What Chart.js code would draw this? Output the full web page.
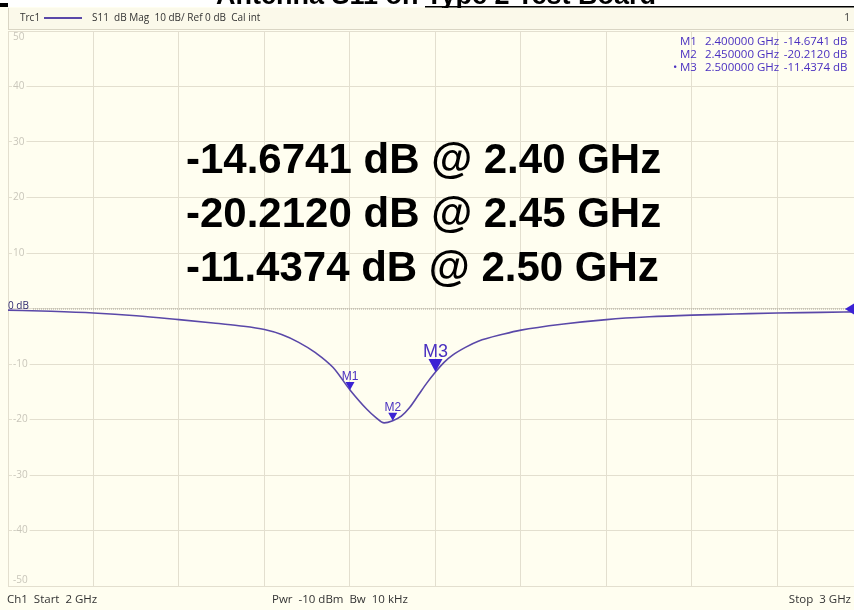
<!DOCTYPE html>
<html>
<head>
<meta charset="utf-8">
<title>Antenna S11 on Type 2 Test Board</title>
<script src="https://cdn.jsdelivr.net/npm/chart.js@4.4.1/dist/chart.umd.min.js"></script>
<style>
  html, body { margin: 0; padding: 0; background: #fff; overflow: hidden; }
  canvas { display: block; }
</style>
</head>
<body>
<canvas id="s11Chart" width="854" height="610"></canvas>
<script>
// ---- data ----
const titleText = 'Antenna S11 on Type 2 Test Board';
const freqGHz = [2.00, 2.05, 2.10, 2.15, 2.20, 2.24, 2.27, 2.30, 2.32, 2.34, 2.36, 2.38, 2.40, 2.42, 2.43, 2.44, 2.45,
                 2.46, 2.47, 2.48, 2.49, 2.50, 2.51, 2.52, 2.535, 2.55, 2.58, 2.60, 2.65, 2.70, 2.75, 2.80, 2.85, 2.90, 2.95, 2.99];
const s11dB   = [-0.3, -0.5, -0.8, -1.3, -2.0, -2.6, -3.1, -3.8, -4.7, -6.1, -8.0, -10.6, -14.6741, -18.2, -19.6, -20.6, -20.212,
                 -19.4, -17.8, -15.6, -13.4, -11.4374, -9.7, -8.4, -7.0, -5.9, -4.6, -3.9, -2.8, -2.0, -1.5, -1.2, -1.0, -0.8, -0.7, -0.6];
const xTicks = [2.0, 2.1, 2.2, 2.3, 2.4, 2.5, 2.6, 2.7, 2.8, 2.9];
const yTicks = [50, 40, 30, 20, 10, 0, -10, -20, -30, -40, -50];
const markerNames  = ['M1', 'M2', 'M3'];
const markerFreqs  = [2.40, 2.45, 2.50];
const markerValues = [-14.6741, -20.2120, -11.4374];
const headerText = 'S11  dB Mag  10 dB/ Ref 0 dB  Cal int';
const footerLeft = 'Ch1  Start  2 GHz';
const footerMid = 'Pwr  -10 dBm  Bw  10 kHz';
const footerRight = 'Stop  3 GHz';

const cream = '#fffef0';
const gridColor = '#e3dfcf';
const traceColor = '#5a48a8';
const markerColor = '#3b22d4';
const markerText = '#4a30c0';
const uiFont = "'Open Sans', sans-serif";
const boldFont = "'Liberation Sans', Arial, sans-serif";

const vnaDecor = {
  id: 'vnaDecor',
  beforeDraw(chart) {
    const c = chart.ctx;
    c.save();
    c.fillStyle = '#fff';
    c.fillRect(0, 0, chart.width, chart.height);
    c.fillStyle = cream;
    c.fillRect(0, 7, chart.width, chart.height - 7);

    // title (cut off at the top of the shot)
    c.fillStyle = '#000';
    c.font = 'bold 27px ' + boldFont;
    c.textAlign = 'center';
    c.textBaseline = 'alphabetic';
    c.fillText(titleText, 436, 3.5);
    c.fillRect(425, 6, chart.width - 425, 1.5);
    c.fillRect(0, 3, 8, 4);

    // header strip
    c.fillStyle = '#fbf9ea';
    c.fillRect(8, 8, chart.width - 8, 21);
    c.strokeStyle = '#d9d5c4';
    c.lineWidth = 1;
    c.beginPath();
    c.moveTo(8, 29.5); c.lineTo(chart.width, 29.5);
    c.moveTo(8.5, 8); c.lineTo(8.5, 30);
    c.stroke();
    c.font = '10px ' + uiFont;
    c.textAlign = 'left';
    c.textBaseline = 'middle';
    c.fillStyle = '#333';
    c.fillText('Trc1', 20, 18);
    c.fillText(headerText, 92, 18);
    c.textAlign = 'right';
    c.fillText('1', 850, 18);
    c.strokeStyle = traceColor;
    c.lineWidth = 2;
    c.beginPath();
    c.moveTo(44, 18); c.lineTo(82, 18);
    c.stroke();

    // footer
    c.font = '11.5px ' + uiFont;
    c.fillStyle = '#333';
    c.textAlign = 'left';
    c.fillText(footerLeft, 7, 600);
    c.fillText(footerMid, 272, 600);
    c.textAlign = 'right';
    c.fillText(footerRight, 851, 600);
    c.restore();
  },
  beforeDatasetsDraw(chart) {
    const c = chart.ctx;
    const y = chart.scales.y;
    const area = chart.chartArea;
    c.save();
    c.font = '10px ' + uiFont;
    c.textBaseline = 'middle';
    c.textAlign = 'left';
    yTicks.forEach(v => {
      let py = y.getPixelForValue(v);
      if (v === 50) py += 6;
      if (v === -50) py -= 6;
      if (v === 0) {
        c.fillStyle = '#2f2a70';
        c.fillText('0 dB', 8, py - 2);
        return;
      }
      const label = String(v);
      const w = c.measureText(label).width;
      c.fillStyle = cream;
      c.fillRect(12, py - 5, w + 3, 10);
      c.fillStyle = '#c9c6ba';
      c.fillText(label, 13, py);
    });
    // reference level dotted line
    const p0 = y.getPixelForValue(0);
    c.strokeStyle = '#a8a498';
    c.lineWidth = 1;
    c.setLineDash([1, 1]);
    c.beginPath();
    c.moveTo(33, p0 + 0.5); c.lineTo(area.right - 6, p0 + 0.5);
    c.stroke();
    c.restore();
  },
  afterDatasetsDraw(chart) {
    const c = chart.ctx;
    const x = chart.scales.x, y = chart.scales.y;
    c.save();
    c.textAlign = 'center';
    c.textBaseline = 'alphabetic';
    markerNames.forEach((name, i) => {
      const px = x.getPixelForValue(markerFreqs[i]);
      const py = y.getPixelForValue(markerValues[i]);
      const big = name === 'M3';
      const hw = big ? 7 : 4.5, h = big ? 13 : 8;
      c.fillStyle = markerColor;
      c.beginPath();
      c.moveTo(px, py);
      c.lineTo(px - hw, py - h);
      c.lineTo(px + hw, py - h);
      c.closePath();
      c.fill();
      c.fillStyle = markerText;
      c.font = (big ? '18px ' : '12px ') + boldFont;
      c.fillText(name, px, py - h - 2);
    });
    // reference arrow on the right edge
    const pr = y.getPixelForValue(0);
    c.fillStyle = markerColor;
    c.beginPath();
    c.moveTo(845, pr + 0.5);
    c.lineTo(854, pr - 5);
    c.lineTo(854, pr + 6);
    c.closePath();
    c.fill();
    c.restore();
  },
  afterDraw(chart) {
    const c = chart.ctx;
    c.save();
    // marker table
    c.font = '11.5px ' + uiFont;
    c.textBaseline = 'middle';
    c.fillStyle = markerText;
    const rows = [42, 55, 68];
    markerNames.forEach((name, i) => {
      const ry = rows[i];
      c.textAlign = 'left';
      if (i === 2) c.fillText('•', 673, ry);
      c.fillText(name, 680, ry);
      c.textAlign = 'right';
      c.fillText(markerFreqs[i].toFixed(6), 754, ry);
      c.textAlign = 'left';
      c.fillText('GHz', 757, ry);
      c.textAlign = 'right';
      c.fillText(markerValues[i].toFixed(4), 830, ry);
      c.textAlign = 'left';
      c.fillText('dB', 833, ry);
    });
    // big overlay text
    c.font = 'bold 42px ' + boldFont;
    c.fillStyle = '#000';
    c.textAlign = 'left';
    c.textBaseline = 'alphabetic';
    const base = [173, 227, 281];
    markerNames.forEach((name, i) => {
      c.fillText(markerValues[i].toFixed(4) + ' dB @ ' + markerFreqs[i].toFixed(2) + ' GHz', 186, base[i]);
    });
    c.restore();
  }
};

new Chart(document.getElementById('s11Chart'), {
  type: 'line',
  data: {
    datasets: [{
      label: 'S11',
      data: freqGHz.map((f, i) => ({ x: f, y: s11dB[i] })),
      borderColor: traceColor,
      borderWidth: 1.6,
      pointRadius: 0,
      fill: false,
      cubicInterpolationMode: 'monotone'
    }]
  },
  options: {
    responsive: false,
    animation: false,
    layout: { padding: { left: 8, top: 31, right: 0, bottom: 24 } },
    plugins: { legend: { display: false }, tooltip: { enabled: false } },
    scales: {
      x: {
        type: 'linear', min: 2, max: 2.9895,
        afterBuildTicks: s => { s.ticks = xTicks.map(v => ({ value: v })); },
        grid: { color: gridColor, drawTicks: false, lineWidth: 1 },
        border: { display: false },
        ticks: { display: false }
      },
      y: {
        min: -50, max: 50,
        afterBuildTicks: s => { s.ticks = yTicks.map(v => ({ value: v })); },
        grid: { color: gridColor, drawTicks: false, lineWidth: 1 },
        border: { display: false },
        ticks: { display: false }
      }
    }
  },
  plugins: [vnaDecor]
});
</script>
</body>
</html>
